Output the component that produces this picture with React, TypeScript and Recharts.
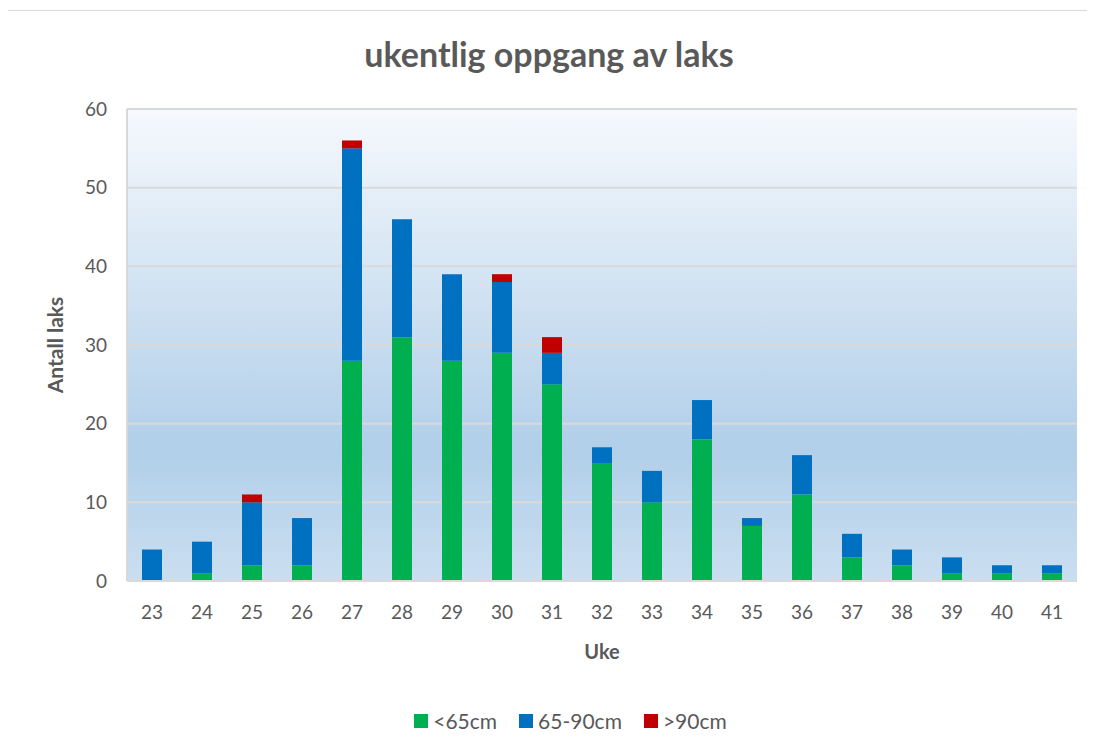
import React from "react";
import {
  BarChart,
  Bar,
  XAxis,
  YAxis,
  CartesianGrid,
  Legend,
} from "recharts";

const weeks = ["23","24","25","26","27","28","29","30","31","32","33","34","35","36","37","38","39","40","41"];
const under65 = [0, 1, 2, 2, 28, 31, 28, 29, 25, 15, 10, 18, 7, 11, 3, 2, 1, 1, 1];
const mid65to90 = [4, 4, 8, 6, 27, 15, 11, 9, 4, 2, 4, 5, 1, 5, 3, 2, 2, 1, 1];
const over90 = [0, 0, 1, 0, 1, 0, 0, 1, 2, 0, 0, 0, 0, 0, 0, 0, 0, 0, 0];
const yTicks = [0, 10, 20, 30, 40, 50, 60];

const seriesNames = ["<65cm", "65-90cm", ">90cm"];
const seriesColors = ["#00b050", "#0070c0", "#c00000"];

const data = weeks.map((w, i) => ({
  week: w,
  a: under65[i],
  b: mid65to90[i],
  c: over90[i],
}));

const FONT = "Lato, 'Open Sans', sans-serif";
const TEXT = "#595959";

const LegendContent = () => (
  <div style={{ display: "flex", justifyContent: "center", fontFamily: FONT, fontSize: 21, color: TEXT, lineHeight: "24px" }}>
    {seriesNames.map((n, i) => (
      <div key={n} style={{ display: "flex", alignItems: "center", marginRight: i < 2 ? 22 : 0 }}>
        <div style={{ width: 14, height: 14, background: seriesColors[i], marginRight: 5 }} />
        <span>{n}</span>
      </div>
    ))}
  </div>
);

export default function App() {
  return (
    <div style={{ position: "relative", left: -5, top: 2, width: 1092, height: 746, border: "1px solid #d9d9d9", boxSizing: "border-box", background: "#fff" }}>
      <div style={{ position: "absolute", top: 22, left: 0, width: "100%", textAlign: "center", fontFamily: FONT, fontWeight: 700, fontSize: 34, color: TEXT }}>
        ukentlig oppgang av laks
      </div>
      <BarChart
        width={1090}
        height={744}
        data={data}
        margin={{ top: 98, right: 17, left: 60, bottom: 70 }}
        barCategoryGap="30%"
      >
        <defs>
          <linearGradient id="bgGrad" x1="0" y1="0" x2="0" y2="1">
            <stop offset="0%" stopColor="#f6f9fd" />
            <stop offset="72%" stopColor="#b1cfe9" />
            <stop offset="100%" stopColor="#cadef0" />
          </linearGradient>
        </defs>
        <CartesianGrid vertical={false} stroke="#d9d9d9" strokeWidth={2} fill="url(#bgGrad)" fillOpacity={1} />
        <XAxis
          dataKey="week"
          axisLine={{ stroke: "#d9d9d9", strokeWidth: 2 }}
          tickLine={false}
          tick={{ fill: TEXT, fontSize: 19, fontFamily: FONT }}
          tickMargin={19}
          height={80}
          label={{ value: "Uke", position: "insideBottom", offset: 2, fill: TEXT, fontSize: 20, fontWeight: 700, fontFamily: FONT }}
        />
        <YAxis
          domain={[0, 60]}
          ticks={yTicks}
          axisLine={{ stroke: "#d9d9d9", strokeWidth: 2 }}
          tickLine={false}
          tick={{ fill: TEXT, fontSize: 19, fontFamily: FONT }}
          tickMargin={14}
          width={63}
          label={{ value: "Antall laks", angle: -90, position: "insideLeft", offset: -8, fill: TEXT, fontSize: 21, fontWeight: 700, fontFamily: FONT, style: { textAnchor: "middle" } }}
        />
        <YAxis
          yAxisId="r"
          orientation="right"
          domain={[0, 60]}
          axisLine={{ stroke: "#d9d9d9", strokeWidth: 2 }}
          tickLine={false}
          tick={false}
          width={0}
        />
        <Legend verticalAlign="bottom" content={<LegendContent />} wrapperStyle={{ bottom: 22 }} />
        <Bar dataKey="a" name={seriesNames[0]} stackId="s" fill={seriesColors[0]} isAnimationActive={false} />
        <Bar dataKey="b" name={seriesNames[1]} stackId="s" fill={seriesColors[1]} isAnimationActive={false} />
        <Bar dataKey="c" name={seriesNames[2]} stackId="s" fill={seriesColors[2]} isAnimationActive={false} />
      </BarChart>
    </div>
  );
}
